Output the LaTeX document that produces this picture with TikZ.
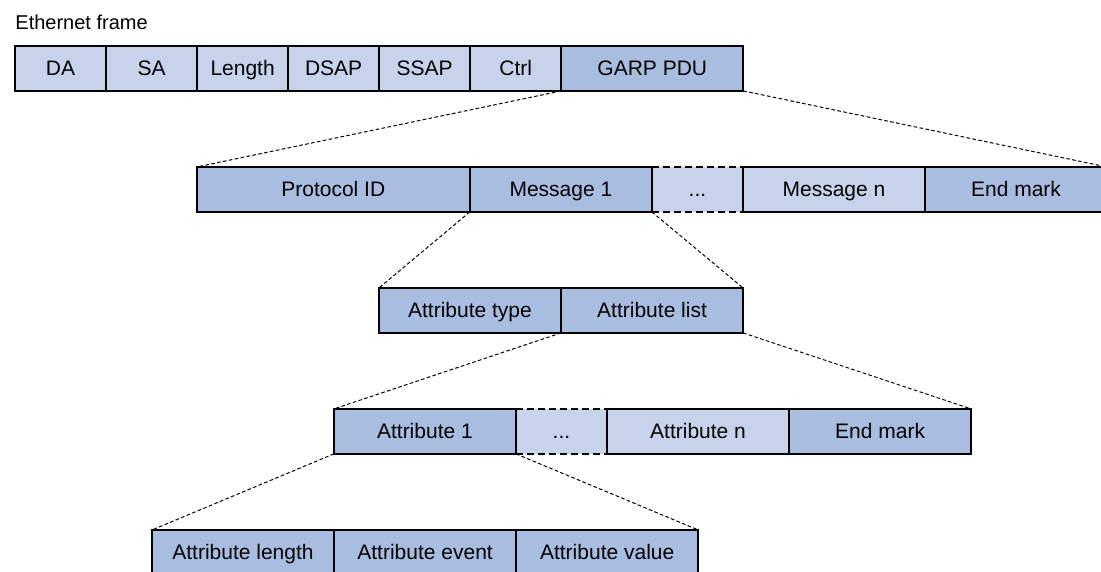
\documentclass[tikz,border=0pt]{standalone}
\usepackage{fontspec}
\setmainfont{Liberation Sans}
\usetikzlibrary{positioning}
\definecolor{fieldDark}{HTML}{A9BDE0}
\definecolor{fieldLight}{HTML}{C6D3EB}

\begin{document}
\begin{tikzpicture}[
    fld/.style={rectangle, draw=black, line width=1pt, minimum width=1.6cm,
                minimum height=0.79cm, inner sep=0pt, outer sep=0pt,
                text height=7.5pt, text depth=0pt,
                font=\fontsize{10.5}{12}\selectfont},
    dark/.style={fld, fill=fieldDark},
    light/.style={fld, fill=fieldLight},
    gap/.style={light, dash pattern=on 3.5pt off 2pt},
    zoomline/.style={line width=0.5pt, dash pattern=on 1.8pt off 1.2pt},
  ]
    \useasboundingbox (0,0) rectangle (19.35,-10.05);
    \clip (0,0) rectangle (19.35,-10.05);

    \node[anchor=base west, inner sep=0pt, font=\fontsize{10}{12}\selectfont]
      (title) at (0.264,-0.527) {Ethernet frame};

    % Ethernet frame
    \node[light, anchor=north west] (da) at (0.264,-0.808) {DA};
    \node[light, right=0pt of da] (sa) {SA};
    \node[light, right=0pt of sa] (len) {Length};
    \node[light, right=0pt of len] (dsap) {DSAP};
    \node[light, right=0pt of dsap] (ssap) {SSAP};
    \node[light, right=0pt of ssap] (ctrl) {Ctrl};
    \node[dark, minimum width=3.2cm, right=0pt of ctrl] (pdu) {GARP PDU};

    % GARP PDU
    \node[gap, anchor=north west] (dots1) at (11.457,-2.935) {.{}.{}.};
    \node[dark, minimum width=3.2cm, left=0pt of dots1] (msg1) {Message 1};
    \node[dark, minimum width=4.8cm, left=0pt of msg1] (pid) {Protocol ID};
    \node[light, minimum width=3.2cm, right=0pt of dots1] (msgn) {Message n};
    \node[dark, minimum width=3.2cm, right=0pt of msgn] (mend) {End mark};

    % Message
    \node[dark, minimum width=3.2cm, anchor=north west] (atype) at (6.660,-5.061) {Attribute type};
    \node[dark, minimum width=3.2cm, right=0pt of atype] (alist) {Attribute list};

    % Attribute list
    \node[gap, anchor=north west] (dots2) at (9.068,-7.187) {.{}.{}.};
    \node[dark, minimum width=3.2cm, left=0pt of dots2] (attr1) {Attribute 1};
    \node[light, minimum width=3.2cm, right=0pt of dots2] (attrn) {Attribute n};
    \node[dark, minimum width=3.2cm, right=0pt of attrn] (aend) {End mark};

    % Attribute
    \node[dark, minimum width=3.2cm, anchor=north west] (alen) at (2.671,-9.314) {Attribute length};
    \node[dark, minimum width=3.2cm, right=0pt of alen] (aevent) {Attribute event};
    \node[dark, minimum width=3.2cm, right=0pt of aevent] (avalue) {Attribute value};

    \draw[zoomline] (pdu.south west) -- (pid.north west);
    \draw[zoomline] (pdu.south east) -- (mend.north east);
    \draw[zoomline] (msg1.south west) -- (atype.north west);
    \draw[zoomline] (msg1.south east) -- (alist.north east);
    \draw[zoomline] (alist.south west) -- (attr1.north west);
    \draw[zoomline] (alist.south east) -- (aend.north east);
    \draw[zoomline] (attr1.south west) -- (alen.north west);
    \draw[zoomline] (attr1.south east) -- (avalue.north east);
\end{tikzpicture}
\end{document}
